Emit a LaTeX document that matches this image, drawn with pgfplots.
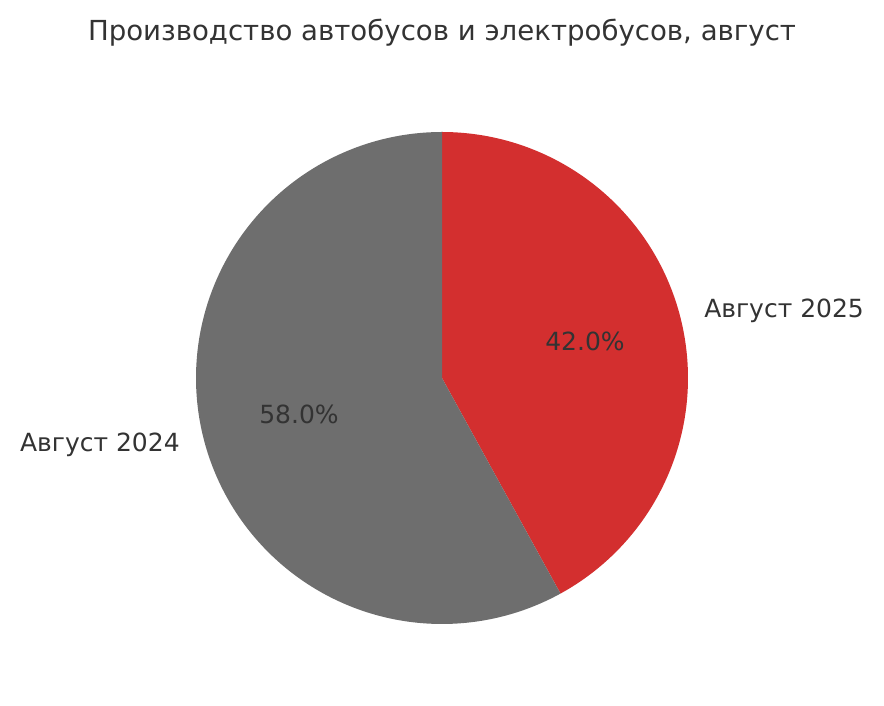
\documentclass[border=0pt]{standalone}
\usepackage{pgfplots}
\pgfplotsset{compat=1.18}
\usepackage{fontspec}
\setmainfont{DejaVu Sans}
\definecolor{pieRed}{HTML}{D32F2F}
\definecolor{pieGray}{HTML}{6E6E6E}
\definecolor{txt}{HTML}{333333}
\begin{document}
\begin{tikzpicture}
\pgfmathsetmacro{\va}{42.0}% Август 2025
\pgfmathsetmacro{\vb}{58.0}% Август 2024
\pgfmathsetmacro{\aA}{90-3.6*\va}
\pgfmathsetmacro{\aB}{\aA-3.6*\vb}
\pgfmathsetmacro{\mA}{(90+\aA)/2}
\pgfmathsetmacro{\mB}{(\aA+\aB)/2}
\begin{axis}[width=884pt,height=706pt,scale only axis,hide axis,clip=false,
  xmin=-1.79675,xmax=1.79675,ymin=-1.33333,ymax=1.53659]
\path (rel axis cs:0,0) rectangle (rel axis cs:1,1);
\addplot[fill=pieRed,draw=none,domain=\aA:90,samples=240,variable=\t]
  ({cos(t)},{sin(t)}) -- (axis cs:0,0) -- cycle;
\addplot[fill=pieGray,draw=none,domain=\aB:\aA,samples=300,variable=\t]
  ({cos(t)},{sin(t)}) -- (axis cs:0,0) -- cycle;
\node[text=txt,font=\fontsize{27.6}{32}\selectfont] at (axis cs:0,1.4024) {Производство автобусов и электробусов, август};
\node[text=txt,font=\fontsize{25}{29}\selectfont,anchor=west,inner sep=0pt] at (axis cs:{1.1*cos(\mA)},{1.1*sin(\mA)}) {Август 2025};
\node[text=txt,font=\fontsize{25}{29}\selectfont,anchor=east,inner sep=0pt] at (axis cs:{1.1*cos(\mB)},{1.1*sin(\mB)}) {Август 2024};
\node[text=txt,font=\fontsize{25}{29}\selectfont] at (axis cs:{0.6*cos(\mA)},{0.6*sin(\mA)}) {\pgfmathprintnumber[fixed,fixed zerofill,precision=1,assume math mode=true]{\va}\%};
\node[text=txt,font=\fontsize{25}{29}\selectfont] at (axis cs:{0.6*cos(\mB)},{0.6*sin(\mB)}) {\pgfmathprintnumber[fixed,fixed zerofill,precision=1,assume math mode=true]{\vb}\%};
\end{axis}
\end{tikzpicture}
\end{document}
